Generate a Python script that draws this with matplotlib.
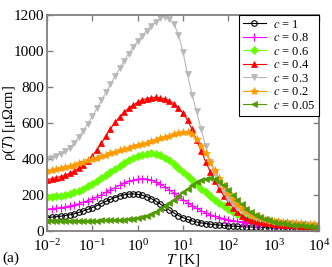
import matplotlib
matplotlib.use("Agg")
import matplotlib.pyplot as plt
import numpy as np

plt.rcParams["font.family"] = ["Liberation Serif", "DejaVu Serif"]
plt.rcParams["mathtext.fontset"] = "stix"

# temperature grid, 10 points per decade from 1e-2 K to 1e4 K
T = 10 ** np.linspace(-2, 4, 61)

LABELS = ["1", "0.8", "0.6", "0.4", "0.3", "0.2", "0.05"]

rho_c100 = [75, 77, 79, 82, 86, 90, 96, 103, 111, 120,
            130, 141, 153, 165, 176, 186, 195, 201, 205, 206,
            204, 199, 191, 180, 166, 150, 133, 116, 100, 86,
            74, 64, 56, 50, 45, 41, 38, 35, 33, 31,
            29, 27, 26, 24, 23, 22, 21, 20, 19, 18,
            17, 16, 15, 14, 13, 12, 11, 10, 9, 8, 8]
rho_c080 = [122, 124, 127, 130, 134, 139, 145, 152, 160, 169,
            179, 190, 202, 215, 228, 241, 254, 266, 276, 284,
            289, 291, 289, 283, 273, 260, 245, 228, 210, 192,
            174, 157, 141, 126, 113, 101, 91, 82, 75, 69,
            63, 58, 54, 50, 47, 44, 41, 39, 37, 35,
            33, 31, 29, 27, 25, 23, 21, 19, 17, 15, 14]
rho_c060 = [188, 190, 193, 197, 202, 208, 216, 225, 236, 249,
            263, 278, 294, 311, 328, 345, 362, 378, 393, 406,
            417, 425, 430, 431, 428, 420, 408, 392, 373, 352,
            330, 307, 283, 259, 236, 214, 193, 173, 155, 138,
            122, 108, 96, 86, 77, 70, 64, 59, 55, 51,
            48, 45, 42, 40, 38, 36, 34, 32, 30, 28, 27]
rho_c040 = [285, 290, 296, 302, 310, 320, 333, 348, 367, 390,
            418, 450, 488, 528, 568, 603, 634, 660, 682, 700,
            715, 727, 736, 741, 742, 740, 734, 723, 707, 685,
            655, 615, 565, 505, 445, 385, 330, 280, 235, 195,
            160, 130, 105, 86, 72, 62, 55, 50, 46, 43,
            40, 38, 36, 34, 32, 31, 30, 29, 28, 27, 26]
rho_c030 = [400, 408, 417, 428, 442, 462, 490, 522, 558, 597,
            638, 681, 725, 770, 815, 860, 903, 945, 985, 1022,
            1055, 1085, 1113, 1140, 1163, 1182, 1190, 1180, 1150, 1090,
            995, 870, 755, 665, 565, 470, 385, 315, 260, 215,
            180, 152, 128, 110, 95, 83, 74, 67, 61, 56,
            52, 49, 46, 44, 42, 40, 38, 37, 36, 35, 34]
rho_c020 = [332, 337, 342, 348, 354, 361, 368, 376, 384, 392,
            400, 408, 416, 424, 432, 440, 448, 456, 463, 470,
            477, 484, 491, 498, 506, 514, 522, 530, 538, 545,
            550, 549, 538, 512, 475, 432, 385, 338, 292, 250,
            212, 178, 150, 127, 109, 95, 84, 75, 68, 62,
            58, 54, 51, 48, 46, 44, 42, 41, 40, 39, 38]
rho_c005 = [55, 55, 55, 56, 56, 56, 56, 57, 57, 57,
            58, 58, 59, 59, 60, 61, 62, 63, 65, 68,
            72, 78, 86, 96, 108, 122, 138, 156, 175, 195,
            215, 235, 254, 270, 283, 291, 293, 288, 275, 255,
            230, 202, 174, 148, 125, 106, 90, 77, 67, 59,
            52, 47, 43, 39, 36, 33, 31, 29, 27, 25, 24]

SERIES = [rho_c100, rho_c080, rho_c060, rho_c040, rho_c030, rho_c020, rho_c005]

STYLES = [
    dict(color="black", marker="o", mfc="none", ms=4.0, mew=0.8),
    dict(color="#ff00ff", marker="+", ms=6.0, mew=0.8),
    dict(color="#66ff00", marker="D", ms=4.0, mew=0.5),
    dict(color="#ff0000", marker="^", ms=5.0, mew=0.5),
    dict(color="#b8b8b8", marker="v", ms=5.0, mew=0.5),
    dict(color="#ff9a00", marker="*", ms=6.0, mew=0.5),
    dict(color="#4f9c00", marker="<", ms=5.0, mew=0.5),
]

fig = plt.figure(figsize=(3.32, 2.67), dpi=100)
ax = fig.add_axes([47 / 332, 1 - 231 / 267, 272 / 332, 216 / 267])

for lab, rho, st in zip(LABELS, SERIES, STYLES):
    ax.plot(T, rho, lw=0.8, label=f"$c$ = {lab}", **st)

ax.set_xscale("log")
ax.set_xlim(1e-2, 1e4)
ax.set_ylim(0, 1200)
ax.set_yticks(range(0, 1201, 200))
ax.set_xticks([1e-2, 1e-1, 1e0, 1e1, 1e2, 1e3, 1e4])

for s in ax.spines.values():
    s.set_color("#808080")
    s.set_linewidth(1.3)
ax.tick_params(which="both", direction="in", top=True, right=True,
               color="#808080", labelsize=11)
ax.tick_params(axis="y", pad=2)
ax.tick_params(axis="x", pad=5)
ax.tick_params(which="major", length=4, width=1.0)
ax.tick_params(which="minor", length=2, width=0.8)

ax.set_xlabel("$T$ [K]", fontsize=11, labelpad=-1)
ax.set_ylabel("ρ($T$) [μΩcm]", fontsize=10.5)
ax.yaxis.set_label_coords(-0.105, 0.5)

leg = ax.legend(loc="upper right", fontsize=9, frameon=True, fancybox=False,
                edgecolor="black", framealpha=1, handlelength=1.8,
                labelspacing=0.12, borderpad=0.3, handletextpad=0.6,
                borderaxespad=0.0)
leg.get_frame().set_linewidth(0.8)

fig.text(2 / 332, 1 - 262 / 267, "(a)", fontsize=11)

fig.savefig("out.png", dpi=100)
